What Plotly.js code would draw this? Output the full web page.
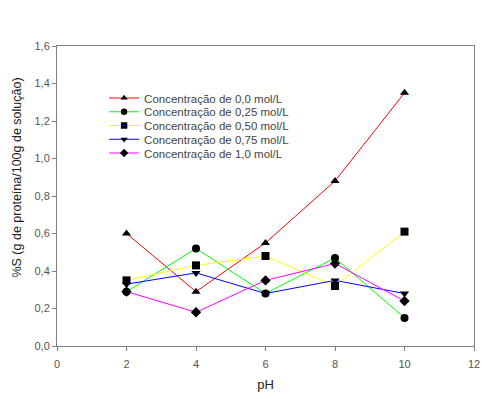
<!DOCTYPE html>
<html><head><meta charset="utf-8">
<script src="https://cdn.plot.ly/plotly-3.0.1.min.js"></script>
<style>html,body{margin:0;padding:0;background:#fff}</style>
</head><body><div id="chart" style="width:498px;height:399px"></div>
<script>
const pH = [2, 4, 6, 8, 10];
const names = ["Concentração de 0,0 mol/L","Concentração de 0,25 mol/L","Concentração de 0,50 mol/L","Concentração de 0,75 mol/L","Concentração de 1,0 mol/L"];
const c000 = [0.60, 0.29, 0.55, 0.88, 1.35];
const c025 = [0.29, 0.52, 0.28, 0.47, 0.15];
const c050 = [0.35, 0.43, 0.48, 0.32, 0.61];
const c075 = [0.33, 0.39, 0.28, 0.35, 0.28];
const c100 = [0.29, 0.18, 0.35, 0.44, 0.24];
const xTicks = ["0","2","4","6","8","10","12"];
const yTicks = ["0,0","0,2","0,4","0,6","0,8","1,0","1,2","1,4","1,6"];
const series = [c000, c025, c050, c075, c100];
const lineColors = ["#FF0000","#00FF00","#FFFF00","#0000FF","#FF00FF"];
const symbols = ["triangle-up","circle","square","triangle-down","diamond"];
const traces = series.map((ys, i) => ({
  x: pH, y: ys, name: names[i], type: "scatter", mode: "lines+markers",
  line: {color: lineColors[i], width: 1},
  marker: {color: "#000", size: 8, symbol: symbols[i]}
}));
const fam = "Liberation Sans, Arial";
const axisCommon = {showgrid:false, zeroline:false, showline:true, mirror:true, linecolor:"#808080", linewidth:1,
  ticks:"outside", ticklen:4, tickcolor:"#808080", tickfont:{family:fam, size:11, color:"#555"}};
const layout = {
  width:498, height:399, margin:{l:57, r:24, t:46, b:53},
  paper_bgcolor:"#fff", plot_bgcolor:"#fff", showlegend:true,
  font:{family:fam, color:"#333"},
  xaxis: Object.assign({}, axisCommon, {range:[0,12], tickvals:[0,2,4,6,8,10,12], ticktext:xTicks,
    ticklabelstandoff:4, title:{text:"pH", font:{size:13, color:"#222"}, standoff:10}}),
  yaxis: Object.assign({}, axisCommon, {range:[0,1.6], tickvals:[0,0.2,0.4,0.6,0.8,1.0,1.2,1.4,1.6],
    ticktext:yTicks}),
  annotations:[{text:"%S (g de proteína/100g de solução)", textangle:-90, xref:"paper", yref:"paper",
    x:-0.097, y:0.56, xanchor:"center", yanchor:"middle", showarrow:false, font:{family:fam, size:12.5, color:"#222"}}],
  legend:{x:0.113, y:0.875, xanchor:"left", yanchor:"top", bgcolor:"rgba(0,0,0,0)", borderwidth:0,
    font:{family:fam, size:11.5, color:"#444"}, tracegroupgap:0, itemwidth:30}
};
Plotly.newPlot("chart", traces, layout, {displayModeBar:false, staticPlot:true}).then(gd => {
  // tighten legend row spacing to match the reference
  const items = gd.querySelectorAll(".legend .traces");
  const ratio = 13.75 / 19;
  items.forEach(el => {
    const t = el.getAttribute("transform") || "";
    const m = t.match(/translate\(\s*([-\d.]+)[ ,]+([-\d.]+)\s*\)/);
    if (m) {
      const x = parseFloat(m[1]), y = parseFloat(m[2]);
      const first = parseFloat(items[0].getAttribute("transform").match(/translate\(\s*[-\d.]+[ ,]+([-\d.]+)/)[1]);
      el.setAttribute("transform", "translate(" + x + "," + (first + (y - first) * ratio) + ")");
    }
    el.querySelectorAll(".legendpoints path.scatterpts").forEach(p => {
      p.setAttribute("transform", (p.getAttribute("transform") || "") + " scale(0.8)");
    });
  });
});
</script></body></html>
